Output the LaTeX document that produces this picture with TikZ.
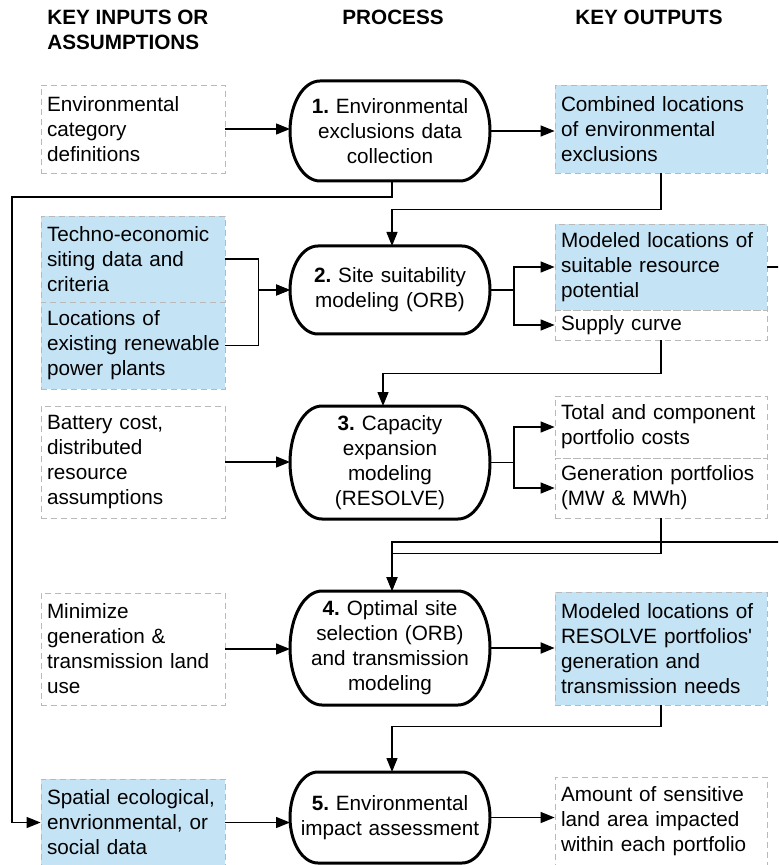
\documentclass[tikz,border=0pt]{standalone}
\usepackage{fontspec}
\setmainfont{Liberation Sans}
\usetikzlibrary{arrows.meta,calc}
\definecolor{outblue}{RGB}{196,228,246}
\definecolor{boxgray}{RGB}{185,185,185}
\begin{document}
\begin{tikzpicture}[x=0.5pt,y=-0.5pt,
  font=\fontsize{10.35}{12.5}\selectfont\frenchspacing,
  box/.style={draw=boxgray, densely dashed, line width=0.4pt, inner xsep=3pt, inner ysep=0pt, align=left},
  inbox/.style={box, minimum width=92pt, text width=86pt},
  outbox/.style={box, minimum width=106pt, text width=100pt},
  shaded/.style={fill=outblue},
  proc/.style={minimum width=100pt, text width=92pt, align=center, inner sep=0pt, outer sep=0pt},
  conn/.style={draw, line width=0.65pt, -{Triangle[length=7pt,width=5.5pt]}},
  head/.style={font=\fontsize{10.35}{12.5}\selectfont\bfseries, align=left, inner sep=0pt}]
\useasboundingbox (0,0) rectangle (778,865);
\clip (0,0) rectangle (778,865);
\node[head, anchor=north west] (hin) at (47,10) {KEY INPUTS OR\\ASSUMPTIONS};
\node[head, anchor=north] (hproc) at (393,10) {PROCESS};
\node[head, anchor=north] (hout) at (649,10) {KEY OUTPUTS};
\node[inbox, minimum height=44pt] (l1) at (133,129) {Environmental\\category\\definitions};
\node[inbox, shaded, minimum height=43pt] (l2) at (133,259) {Techno-economic\\siting data and\\criteria};
\node[inbox, shaded, minimum height=43.5pt] (l3) at (133,345.5) {Locations of\\\mbox{existing renewable}\\power plants};
\node[inbox, minimum height=56pt] (l4) at (133,462) {Battery cost,\\distributed\\resource\\assumptions};
\node[inbox, minimum height=56pt] (l5) at (133,649) {Minimize\\generation \&\\transmission land\\use};
\node[inbox, shaded, minimum height=43.5pt] (l6) at (133,822.5) {Spatial ecological,\\envrionmental, or\\social data};
\node[proc, minimum height=50pt] (p1) at (390,131) {\textbf{1.} Environmental\\exclusions data\\collection};
\node[proc, minimum height=44pt] (p2) at (390,290) {\textbf{2.} Site suitability\\modeling (ORB)};
\node[proc, minimum height=56.5pt] (p3) at (390,462.5) {\textbf{3.} Capacity\\expansion\\modeling\\(RESOLVE)};
\node[proc, minimum height=57pt] (p4) at (390,648) {\textbf{4.} Optimal site\\selection (ORB)\\and transmission\\modeling};
\node[proc, minimum height=45.5pt] (p5) at (390,817.5) {\textbf{5.} Environmental\\impact assessment};
\node[outbox, shaded, minimum height=44pt] (r1) at (661,129) {Combined locations\\of environmental\\exclusions};
\node[outbox, shaded, minimum height=43pt] (r2) at (661,267) {Modeled locations of\\suitable resource\\potential};
\node[outbox, minimum height=15pt] (r3) at (661,325) {Supply curve};
\node[outbox, minimum height=31pt] (r4) at (661,427) {Total and component\\portfolio costs};
\node[outbox, minimum height=30pt] (r5) at (661,488) {Generation portfolios\\(MW \& MWh)};
\node[outbox, shaded, minimum height=56.5pt] (r6) at (661,648.5) {Modeled locations of\\RESOLVE portfolios\textquotesingle\\generation and\\transmission needs};
\node[outbox, minimum height=44.5pt] (r7) at (661,821.5) {Amount of sensitive\\land area impacted\\within each portfolio};
\foreach \pr/\rx in {p1/15,p2/14,p3/16,p4/16,p5/14}
  \draw[line width=1.5pt] let \p1=(\pr.north), \p2=(\pr.south), \n1={abs(\y1-\y2)/2} in
    ([xshift=-\rx pt]\pr.north east) arc[start angle=90, end angle=-90, x radius=\rx pt, y radius=\n1]
    -- ([xshift=\rx pt]\pr.south west) arc[start angle=270, end angle=90, x radius=\rx pt, y radius=\n1]
    -- cycle;
\coordinate (lft) at (12,197);
\coordinate (rim) at (800,542);
\path[conn] (l1.east) -- (l1.east -| p1.west);
\path[conn] (p1.east) -- (p1.east -| r1.west);
\path[conn] ([xshift=1pt]p1.south) |- (lft) |- (l6.west);
\path[conn] (r1.south) -- ++(0,36) -| ([xshift=1pt]p2.north);
\path[conn] (l2.east) -- ++(33,0) |- (p2.west);
\path[conn] (l3.east) -- ++(33,0) |- (p2.west);
\path[conn] (p2.east) -- ++(24,0) |- (r2.west);
\path[conn] (p2.east) -- ++(24,0) |- (r3.west);
\path[conn] (r2.east) -| (rim) -| ([xshift=1pt]p4.north);
\path[conn] (r3.south) -- ++(0,33) -| ([xshift=-3.5pt]p3.north);
\path[conn] (l4.east) -- (l4.east -| p3.west);
\path[conn] (p3.east) -- ++(24,0) |- (r4.west);
\path[conn] (p3.east) -- ++(24,0) |- (r5.west);
\path[conn] (r5.south) -- ++(0,35) -| ([xshift=1pt]p4.north);
\path[conn] (l5.east) -- (l5.east -| p4.west);
\path[conn, line width=1pt] (p4.east) -- (p4.east -| r6.west);
\path[conn] (r6.south) -- ++(0,21) -| ([xshift=1pt]p5.north);
\path[conn] (l6.east) -- (l6.east -| p5.west);
\path[conn] (p5.east) -- (p5.east -| r7.west);
\end{tikzpicture}
\end{document}
